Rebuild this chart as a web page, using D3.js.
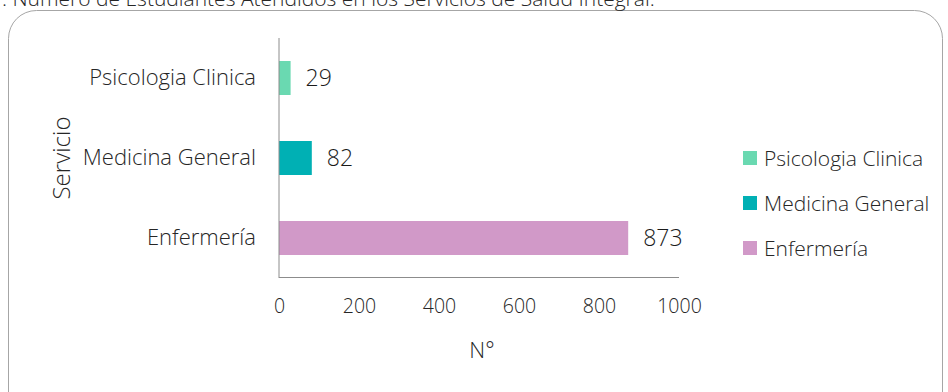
<!DOCTYPE html>
<html><head><meta charset="utf-8">
<script src="https://cdn.jsdelivr.net/npm/d3@7"></script>
<style>body{margin:0;background:#fff;} text{font-family:"Open Sans","Noto Sans",sans-serif;font-weight:300;}</style>
</head><body><svg id="c" width="948" height="392"></svg>
<script>
const categories = ["Psicologia Clinica","Medicina General","Enfermería"];
const values = [29, 82, 873];
const colors = ["#6AD9B1","#00B0B4","#D199C8"];
const xTicks = [0,200,400,600,800,1000];
const title = ": Número de Estudiantes Atendidos en los Servicios de Salud Integral.";
const FONT = "'Open Sans','Noto Sans',sans-serif";

const svg = d3.select("#c");
svg.append("rect").attr("x",8.5).attr("y",10.5).attr("width",934).attr("height",410).attr("rx",28)
  .attr("fill","#fff").attr("stroke","#a6a6a6").attr("stroke-width",1);
svg.append("text").attr("x",2).attr("y",6).attr("font-size",21).attr("fill","#262626").text(title);

const x = d3.scaleLinear().domain([0,1000]).range([279,679]);
const y = d3.scaleBand().domain(categories).range([38,278]).paddingInner(0.575).paddingOuter(0.2875);

const g = svg.append("g");
g.selectAll("rect.bar").data(values).join("rect").attr("class","bar")
  .attr("x",x(0)).attr("y",(d,i)=>y(categories[i])).attr("width",d=>x(d)-x(0))
  .attr("height",y.bandwidth()).attr("fill",(d,i)=>colors[i]);
g.selectAll("text.val").data(values).join("text").attr("class","val")
  .attr("x",d=>x(d)+15).attr("y",(d,i)=>y(categories[i])+y.bandwidth()/2)
  .attr("dy","0.36em").attr("font-size",23).attr("fill","#1a1a1a").text(d=>d);

// axes
const yAxis = svg.append("g").attr("transform","translate(279,0)").call(d3.axisLeft(y).tickSize(0).tickPadding(23));
yAxis.select(".domain").attr("stroke","#8c8c8c").attr("d","M0,38V278");
yAxis.selectAll("text").attr("font-size",22).attr("fill","#262626").style("font-family",FONT).style("font-weight",300);

const xAxis = svg.append("g").attr("transform","translate(0,277.5)").call(d3.axisBottom(x).tickValues(xTicks).tickFormat(d3.format("d")).tickSize(0).tickPadding(22));
xAxis.select(".domain").attr("stroke","#8c8c8c").attr("d","M279,0H679");
xAxis.selectAll("text").attr("font-size",19.5).attr("fill","#262626")
  .style("font-family",FONT).style("font-weight",300);

svg.append("text").attr("x",482).attr("y",358).attr("text-anchor","middle").attr("font-size",22).attr("fill","#262626").text("N°");
svg.append("text").attr("transform","translate(70,158) rotate(-90)").attr("text-anchor","middle").attr("font-size",24).attr("fill","#262626").text("Servicio");

// legend
const leg = svg.append("g");
categories.forEach((c,i)=>{
  const yy = 158 + i*45;
  leg.append("rect").attr("x",743).attr("y",yy-7).attr("width",14).attr("height",14).attr("fill",colors[i]);
  leg.append("text").attr("x",764).attr("y",yy).attr("dy","0.36em").attr("font-size",21).attr("fill","#262626").text(c);
});
</script></body></html>
